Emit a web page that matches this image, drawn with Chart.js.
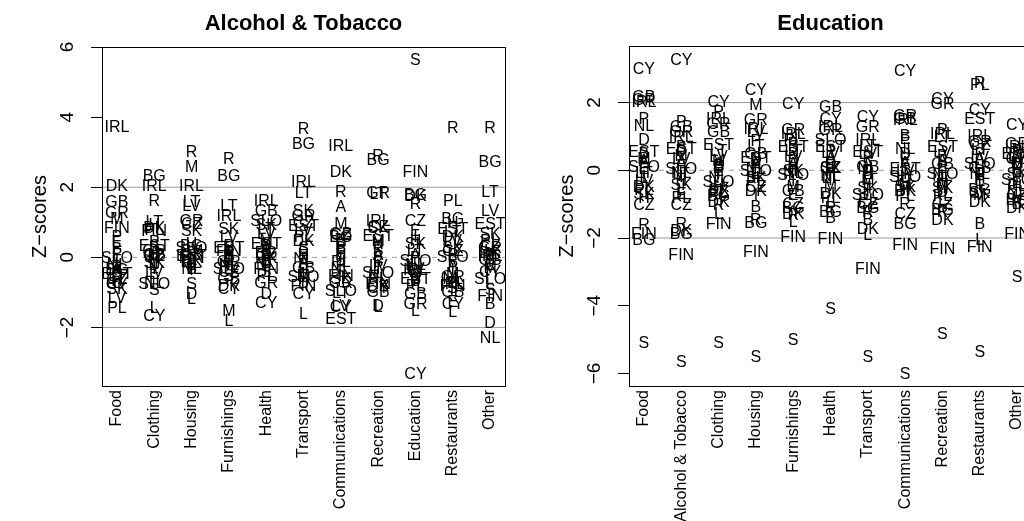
<!DOCTYPE html>
<html>
<head>
<meta charset="utf-8">
<script src="https://cdn.jsdelivr.net/npm/chart.js@4/dist/chart.umd.min.js"></script>
<style>
  html, body { margin: 0; padding: 0; background: #fff; overflow: hidden; width: 1024px; height: 521px; }
  .panel { position: absolute; top: 0; }
  #wrapA { left: 0; width: 512px; height: 521px; }
  #wrapB { left: 512px; width: 528px; height: 521px; }
</style>
</head>
<body>
<div id="wrapA" class="panel"><canvas id="chartA" width="512" height="521"></canvas></div>
<div id="wrapB" class="panel"><canvas id="chartB" width="528" height="521"></canvas></div>
<script>
// Country codes, same order in every value array below
const countries = ['A','B','BG','CY','CZ','D','DK','E','EST','F','FIN','GB','GR','H','I','IRL','L','LT','LV','M','NL','P','PL','R','S','SK','SLO'];

// ---- Panel 1: Alcohol & Tobacco ----
const atCategories = ['Food','Clothing','Housing','Furnishings','Health','Transport','Communications','Recreation','Education','Restaurants','Other'];
const atFood           = [-0.3, 0.25, -0.35, -0.75, -0.6, -0.55, 2.06, 0.45, -0.45, 0.1, 0.87, 1.59, 1.30, -0.65, -0.1, 3.73, -0.7, -0.5, -1.13, 1.12, -0.2, 0.6, -1.41, -0.25, -0.4, -0.88, 0.0];
const atClothing       = [0.15, 0.3, 2.35, -1.65, 0.05, -0.2, 0.87, -0.45, 0.35, -0.05, 0.78, 0.1, 0.2, 0.95, -0.3, 2.07, -1.41, 1.02, -0.4, 0.0, -0.7, 0.45, 0.8, 1.64, -0.9, -0.15, -0.75];
const atHousing        = [-0.05, -0.3, 0.35, 0.2, 0.98, -1.02, -0.1, -0.2, 0.05, -0.25, 0.0, 0.1, 1.05, 0.4, -0.35, 2.07, -1.16, 1.6, 1.5, 2.59, -0.3, 0.15, -0.15, 3.02, -0.74, 0.78, 0.3];
const atFurnishings    = [0.1, 0.05, 2.35, -0.88, -0.4, 0.0, -0.8, -0.05, 0.3, 0.15, 0.2, -0.59, -0.1, 0.25, -0.15, 1.21, -1.79, 1.49, 0.59, -1.51, -0.2, 0.35, -0.25, 2.83, -0.5, 0.84, -0.31];
const atHealth         = [0.3, 0.2, 0.15, -1.27, 0.1, -1.02, 0.0, -0.05, 0.41, 0.05, -0.31, 1.35, -0.7, -0.1, 0.25, 1.64, -0.15, 0.84, 0.7, 0.5, -0.2, 0.35, -0.5, 0.0, -0.4, 0.95, 1.07];
const atTransport      = [-0.1, -0.2, 3.26, -1.03, 1.0, -0.7, 0.49, 0.21, 0.92, -0.35, -0.8, -0.27, 1.21, 0.1, -0.45, 2.16, -1.6, 1.87, 0.8, -0.5, -0.02, -0.6, 0.6, 3.69, 0.3, 1.35, -0.55];
const atCommunications = [1.45, 0.3, 0.6, -1.4, 0.65, 0.4, 2.45, 0.5, -1.73, 0.2, -0.5, 0.69, -0.7, 0.1, 0.02, 3.21, 0.25, -1.0, -1.36, 0.97, -0.31, -0.2, -0.1, 1.90, -0.4, -0.59, -0.93];
const atRecreation     = [0.1, -0.1, 2.8, -0.85, 0.9, -1.36, -0.8, 0.0, 0.64, -0.15, -0.74, -0.98, 1.85, 0.4, -0.3, 1.07, -1.4, 1.83, -0.22, 0.5, -0.5, 0.3, -0.6, 2.9, 0.2, 0.87, -0.41];
const atEducation      = [0.1, -0.65, 1.8, -3.31, 1.07, -0.5, 1.76, 0.78, -0.59, -0.7, 2.45, -1.02, -1.31, 0.5, 0.59, -0.35, -1.51, 0.21, -0.31, -0.4, -0.2, 0.0, -0.8, 1.55, 5.66, 0.41, -0.08];
const atRestaurants    = [-0.22, -0.1, 1.11, -1.31, 0.2, -0.7, 0.59, -1.25, 0.83, -0.05, -0.8, -0.98, -0.55, 1.0, -0.35, -0.75, -1.55, 0.75, 0.5, -0.45, -0.6, 0.1, 1.64, 3.71, -0.85, 0.3, 0.02];
const atOther          = [0.0, -1.31, 2.73, -0.4, 0.35, -1.84, 0.15, -0.2, 0.97, -0.35, -1.08, -0.05, 0.3, 0.2, -0.1, 0.05, -0.75, 1.90, 1.35, -0.27, -2.27, 0.1, 0.5, 3.71, -0.9, 0.69, -0.6];
const atTicks = [-2, 0, 2, 4, 6];

// ---- Panel 2: Education ----
const edCategories = ['Food','Alcohol & Tobacco','Clothing','Housing','Furnishings','Health','Transport','Communications','Recreation','Restaurants','Other'];
const edFood           = [0.3, 0.5, -2.04, 3.02, -1.01, 0.91, -0.47, 0.05, 0.55, 0.2, -1.85, 2.18, 2.1, -0.8, -0.18, 2.03, -0.2, -0.05, -0.3, 0.35, 1.32, 1.55, -0.55, -1.6, -5.09, -0.67, 0.12];
const edAlcohol        = [0.25, 0.7, -1.85, 3.27, -1.01, 0.6, -1.78, -0.67, 0.66, 0.15, -2.49, 1.3, 1.15, -0.3, -0.18, 1.0, -0.55, -0.1, 0.37, 0.45, -0.05, 1.45, -0.8, -1.55, -5.63, -0.42, 0.07];
const edClothing       = [0.22, 0.15, -0.75, 2.04, -0.62, 0.1, -0.91, 0.0, 0.76, 0.08, -1.55, 1.15, 1.4, -0.45, -0.1, 1.55, -1.26, 0.6, 0.41, 0.3, -0.2, 1.74, -0.65, -1.0, -5.09, -0.55, -0.32];
const edHousing        = [0.2, -1.06, -1.52, 2.38, -0.47, 0.35, -0.6, -0.1, 0.4, 0.15, -2.39, 0.5, 1.5, 0.3, -0.72, 1.25, -0.1, 0.75, 1.15, 1.94, 0.05, 0.9, -0.3, -1.45, -5.49, -0.2, 0.0];
const edFurnishings    = [0.2, 0.5, -1.1, 1.99, -0.96, 0.3, -1.26, -0.72, 0.7, 0.05, -1.95, -0.6, 1.22, 0.1, -0.3, 1.1, -1.5, 0.6, 0.41, -0.47, -0.05, 0.8, 0.91, -1.3, -4.99, 0.0, -0.13];
const edHealth         = [0.35, -1.4, -1.21, 1.55, 0.1, 0.25, -0.67, 0.2, 0.71, 0.0, -2.02, 1.89, 1.2, -0.1, -0.27, 1.3, -0.9, -0.2, 0.52, -0.45, -0.15, 0.6, -0.8, -1.1, -4.06, 0.08, 0.91];
const edTransport      = [0.2, -1.45, -1.1, 1.61, -0.96, 0.0, -1.7, -0.4, 0.56, -0.03, -2.88, 0.12, 1.3, -0.1, -0.6, 0.91, -1.9, 0.75, 0.5, -0.27, 0.05, 0.4, -0.85, -1.2, -5.49, -0.5, -0.72];
const edCommunications = [0.25, 1.05, -1.55, 2.97, -1.26, 0.5, -0.6, 0.95, 0.07, 0.15, -2.19, 1.55, 1.64, -0.55, -0.1, 1.5, -0.2, -0.3, 0.0, -0.4, 0.66, 0.37, -0.75, -0.96, -5.98, -0.47, -0.18];
const edRecreation     = [0.3, 0.45, -1.15, 2.14, -0.96, -0.62, -1.45, 0.1, 0.7, 0.0, -2.29, 0.2, 1.99, -0.32, -0.25, 1.1, -0.85, 1.0, 0.55, -0.4, -0.15, 1.2, -0.75, -1.2, -4.8, -0.5, -0.08];
const edRestaurants    = [0.35, -1.57, -0.55, 1.79, 0.78, 0.0, -0.91, -0.3, 1.55, -0.1, -2.24, 0.1, 0.85, -0.2, -0.4, 1.05, -2.04, 0.61, 0.4, -0.7, -0.1, 0.5, 2.55, 2.6, -5.34, -0.65, 0.22];
const edOther          = [0.3, -0.96, -0.85, 1.35, -0.7, 0.2, -1.1, -0.35, 0.5, 0.1, -1.85, 0.35, 0.8, 0.0, -0.2, 0.7, -0.8, 0.45, 0.4, 0.25, -0.62, 0.6, -0.45, -0.9, -3.13, -0.1, -0.27];
const edTicks = [-6, -4, -2, 0, 2];

// Reference levels: dashed at 0, solid at +/-2
const refSolid = [-2, 2];
const refDashed = [0];

const FONT = '"Liberation Sans", Arial, Helvetica, sans-serif';

// Draws the frame, the panel title, the rotated y tick labels and the country codes
const panelDecor = {
  id: 'panelDecor',
  afterDatasetsDraw(chart, args, opts) {
    const ctx = chart.ctx;
    const a = chart.chartArea;
    ctx.save();
    // country codes at each point
    ctx.font = '16px ' + FONT;
    ctx.fillStyle = '#000';
    ctx.textAlign = 'center';
    ctx.textBaseline = 'alphabetic';
    chart.data.datasets.forEach((ds, di) => {
      if (!ds.codes) return;
      chart.getDatasetMeta(di).data.forEach((pt, j) => {
        ctx.fillText(ds.codes[j], pt.x, pt.y + 5.8);
      });
    });
    // frame
    ctx.strokeStyle = '#000';
    ctx.lineWidth = 1;
    ctx.strokeRect(Math.round(a.left) + 0.5, Math.round(a.top) + 0.5,
                   Math.round(a.right - a.left), Math.round(a.bottom - a.top));
    // y tick labels, rotated like the axis title
    const ys = chart.scales.y;
    ctx.font = '19px ' + FONT;
    ctx.textAlign = 'center';
    ctx.textBaseline = 'middle';
    opts.yTicks.forEach(v => {
      const py = ys.getPixelForValue(v);
      ctx.save();
      ctx.translate(a.left - 34, py);
      ctx.rotate(-Math.PI / 2);
      ctx.fillText(v < 0 ? '\u2212' + Math.abs(v) : String(v), 0, 0);
      ctx.restore();
    });
    // panel title
    ctx.font = 'bold 22px ' + FONT;
    ctx.textBaseline = 'middle';
    ctx.fillText(opts.title, (a.left + a.right) / 2, 24);
    ctx.restore();
  }
};

function buildPanel(canvasId, title, cats, series, yMin, yMax, yTicks, area, width) {
  const datasets = [];
  refSolid.forEach(h => datasets.push({
    type: 'line', data: [{x: 0.6, y: h}, {x: 11.4, y: h}],
    borderColor: '#9a9a9a', borderWidth: 1, pointRadius: 0, fill: false
  }));
  refDashed.forEach(h => datasets.push({
    type: 'line', data: [{x: 0.6, y: h}, {x: 11.4, y: h}],
    borderColor: '#9a9a9a', borderWidth: 1, borderDash: [5, 5], pointRadius: 0, fill: false
  }));
  cats.forEach((c, i) => datasets.push({
    type: 'scatter', label: c, codes: countries,
    data: series[i].map(v => ({x: i + 1, y: v})),
    pointRadius: 0, pointHoverRadius: 0
  }));

  return new Chart(document.getElementById(canvasId), {
    data: { datasets },
    options: {
      responsive: false,
      animation: false,
      events: [],
      layout: { padding: { left: 0, right: width - area.right, top: area.top, bottom: 0 } },
      plugins: {
        legend: { display: false },
        tooltip: { enabled: false },
        title: { display: false },
        panelDecor: { title, yTicks }
      },
      scales: {
        x: {
          type: 'linear', min: 0.6, max: 11.4,
          afterBuildTicks: s => { s.ticks = cats.map((c, i) => ({ value: i + 1 })); },
          afterFit: s => { s.height = 521 - area.bottom; s.paddingLeft = 0; s.paddingRight = 0; },
          ticks: {
            autoSkip: false, minRotation: 90, maxRotation: 90, padding: 4,
            font: { size: 16, family: FONT }, color: '#000',
            callback: v => cats[Math.round(v) - 1]
          },
          grid: { display: false, drawTicks: false },
          border: { display: false }
        },
        y: {
          type: 'linear', min: yMin, max: yMax,
          afterBuildTicks: s => { s.ticks = yTicks.map(v => ({ value: v })); },
          afterFit: s => { s.width = area.left; s.paddingTop = 0; s.paddingBottom = 0; },
          ticks: { display: false },
          grid: { display: true, drawOnChartArea: false, drawTicks: true, tickLength: 11, color: '#000', lineWidth: 1 },
          border: { display: false },
          title: {
            display: true, text: 'Z\u2212scores', color: '#000',
            font: { size: 20, family: FONT }, padding: { top: area.left - 74, bottom: 0 }
          }
        }
      }
    },
    plugins: [panelDecor]
  });
}

buildPanel('chartA', 'Alcohol & Tobacco', atCategories,
  [atFood, atClothing, atHousing, atFurnishings, atHealth, atTransport, atCommunications, atRecreation, atEducation, atRestaurants, atOther],
  -3.67, 6.0, atTicks, { left: 102, right: 505, top: 47, bottom: 386 }, 512);

buildPanel('chartB', 'Education', edCategories,
  [edFood, edAlcohol, edClothing, edHousing, edFurnishings, edHealth, edTransport, edCommunications, edRecreation, edRestaurants, edOther],
  -6.37, 3.67, edTicks, { left: 117, right: 520, top: 46, bottom: 386 }, 528);
</script>
</body>
</html>
